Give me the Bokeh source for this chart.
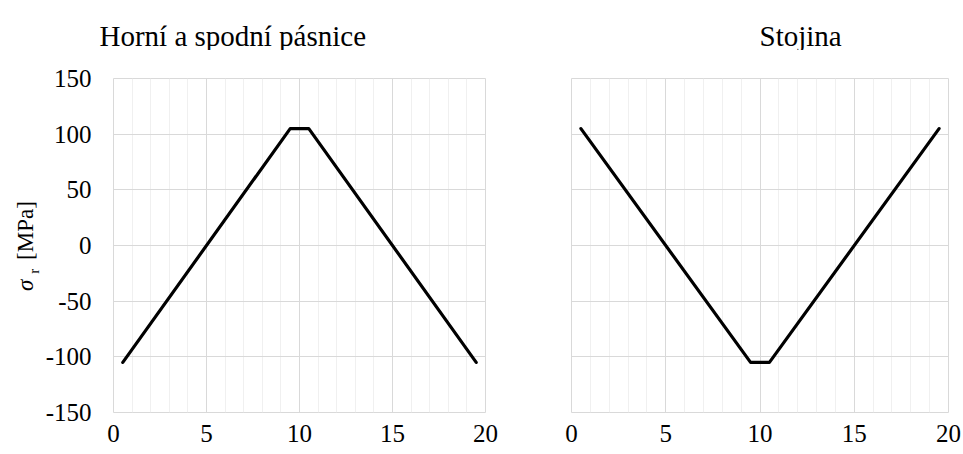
import math
from bokeh.plotting import figure
from bokeh.layouts import row, column
from bokeh.models import Range1d, FixedTicker
from bokeh.core.properties import value
from bokeh.embed import file_html
from bokeh.resources import INLINE

# ---- data ----
x_flange = [0.5, 9.5, 10.5, 19.5]
stress_flange = [-105, 105, 105, -105]
x_web = [0.5, 9.5, 10.5, 19.5]
stress_web = [105, -105, -105, 105]

x_ticks = [0, 5, 10, 15, 20]
x_minor = [1, 2, 3, 4, 6, 7, 8, 9, 11, 12, 13, 14, 16, 17, 18, 19]
y_ticks = [-150, -100, -50, 0, 50, 100, 150]
y_tick_labels = ["-150", "-100", "-50", "0", "50", "100", "150"]
titles = ["Horní a spodní pásnice", "Stojina"]
y_label_parts = ["σ", "r", "[MPa]"]

FONT = "Liberation Serif"
MAJOR = "#d9d9d9"
MINOR = "#f0f0f0"
PAGE_H = 452
HEADER_H = 50
PLOT_H = PAGE_H - HEADER_H


def blank(width, height):
    f = figure(width=width, height=height,
               x_range=Range1d(0, width), y_range=Range1d(0, height),
               output_backend="svg", toolbar_location=None,
               x_axis_location=None, y_axis_location=None,
               min_border=0)
    f.outline_line_color = None
    f.grid.grid_line_color = None
    return f


def make(width, mbl, mbr, xs, ys):
    p = figure(width=width, height=PLOT_H,
               x_range=Range1d(0, 20), y_range=Range1d(-150, 150),
               output_backend="svg", toolbar_location=None,
               min_border_left=mbl, min_border_right=mbr,
               min_border_top=28, min_border_bottom=40)
    xt = FixedTicker(ticks=x_ticks, minor_ticks=x_minor)
    yt = FixedTicker(ticks=y_ticks, minor_ticks=[])
    p.xaxis.ticker = xt
    p.yaxis.ticker = yt
    p.xgrid.ticker = xt
    p.ygrid.ticker = yt
    p.xgrid.grid_line_color = MAJOR
    p.ygrid.grid_line_color = MAJOR
    p.xgrid.minor_grid_line_color = MINOR
    p.ygrid.minor_grid_line_color = None
    p.outline_line_color = MAJOR
    for ax in (p.xaxis[0], p.yaxis[0]):
        ax.axis_line_color = None
        ax.major_tick_line_color = None
        ax.minor_tick_line_color = None
        ax.major_tick_out = 0
        ax.major_tick_in = 0
        ax.minor_tick_out = 0
        ax.minor_tick_in = 0
        ax.major_label_text_font = FONT
        ax.major_label_text_font_size = "25px"
        ax.major_label_text_color = "black"
    p.xaxis.major_label_standoff = 12
    p.yaxis.major_label_standoff = 22
    p.yaxis.major_label_overrides = {v: s for v, s in zip(y_ticks, y_tick_labels)}
    p.line(xs, ys, line_color="black", line_width=3.2,
           line_join="round", line_cap="round")
    return p


# header with the two panel titles
header = blank(961, HEADER_H)
header.text(x=[99, 759], y=[HEADER_H - 35, HEADER_H - 35], text=titles,
            text_font=value(FONT), text_font_size="29px",
            text_align="left", text_baseline="alphabetic", text_color="black")

# y-axis title strip (rotated, reads bottom to top)
ylab = blank(40, PLOT_H)
def py(page_y):
    return PAGE_H - page_y
ang = math.pi / 2
ylab.text(x=[25], y=[py(299)], text=[y_label_parts[0]], angle=ang,
          text_font=value(FONT), text_font_style="italic", text_font_size="23px",
          text_align="center", text_baseline="middle", text_color="black")
ylab.text(x=[33], y=[py(282)], text=[y_label_parts[1]], angle=ang,
          text_font=value(FONT), text_font_size="15px",
          text_align="center", text_baseline="middle", text_color="black")
ylab.text(x=[25], y=[py(233)], text=[y_label_parts[2]], angle=ang,
          text_font=value(FONT), text_font_size="23px",
          text_align="center", text_baseline="middle", text_color="black")

p1 = make(460, 73, 15, x_flange, stress_flange)
p2 = make(461, 71, 13, x_web, stress_web)
p2.yaxis.visible = False

layout = column(header, row(ylab, p1, p2))
open("out.html", "w").write(file_html(layout, INLINE))
